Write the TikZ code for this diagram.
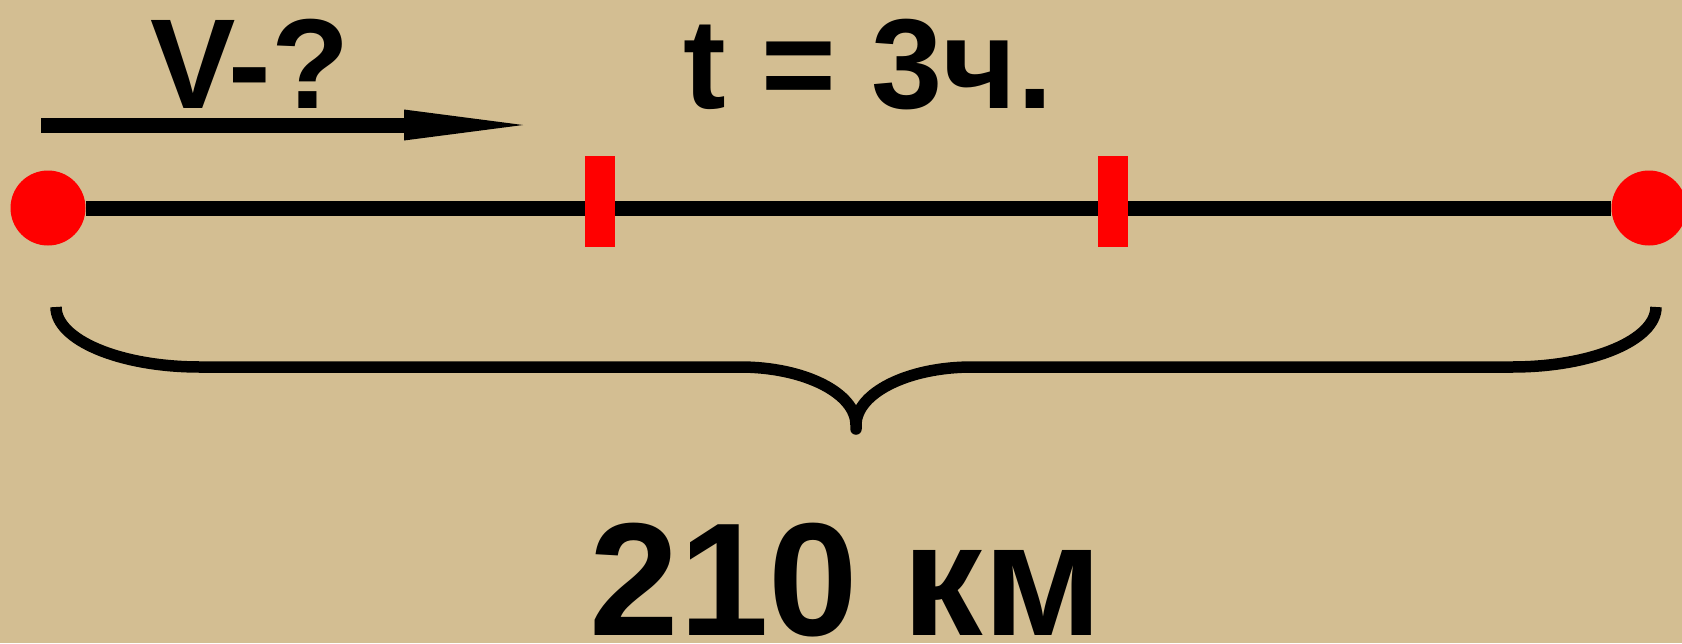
\documentclass[tikz,border=0pt]{standalone}
\usepackage{fontspec}
\setmainfont{Liberation Sans}
\usetikzlibrary{arrows.meta, positioning}
\definecolor{boardcolor}{RGB}{211,190,146}
\definecolor{markred}{RGB}{255,0,0}
\tikzset{
  stopdot/.style={circle, fill=markred, minimum size=75pt, inner sep=0pt},
  tickmark/.style={rectangle, fill=markred, minimum width=30pt,
                   minimum height=91pt, inner sep=0pt},
  road/.style={line width=15pt},
  speedarrow/.style={line width=15pt,
                     -{Triangle[length=119pt, width=31pt, line width=0pt]}},
  bracepath/.style={line width=11.5pt, line join=round},
  biglabel/.style={font=\bfseries\fontsize{128}{150}\selectfont,
                   anchor=base, inner sep=0pt},
}

\begin{document}
\begin{tikzpicture}[x=1pt, y=-1pt]
  % Board
  \fill[boardcolor] (0,0) rectangle (1682,643);
  \useasboundingbox (0,0) rectangle (1682,643);

  % Road with both ends
  \node[stopdot] (start) at (48,208) {};
  \node[stopdot] (finish) at (1649,208) {};
  \draw[road] (start) -- (finish);

  % Hour marks
  \node[tickmark] (hour1) at (600,201.5) {};
  \node[tickmark] (hour2) at (1113,201.5) {};

  % Speed and time
  \coordinate (vfrom) at (41,125);
  \coordinate (vto) at (523,125);
  \draw[speedarrow] (vfrom) -- (vto);
  \node[biglabel] (speed) at (250,108) {V-?};
  \node[biglabel] (time) at (868,108) {t = 3ч.};

  % Brace and distance
  \draw[bracepath] (56,307) .. controls (56,340) and (120,367) .. (200,367)
    -- (740,367) .. controls (804,367) and (856,393) .. (856,425)
    -- (856,429) -- (856,425)
    .. controls (856,393) and (908,367) .. (972,367)
    -- (1512,367) .. controls (1592,367) and (1656,340) .. (1656,307);
  \node[biglabel, font=\bfseries\fontsize{161}{190}\selectfont] (dist)
    at (846,635) {210 км};

\end{tikzpicture}
\end{document}
